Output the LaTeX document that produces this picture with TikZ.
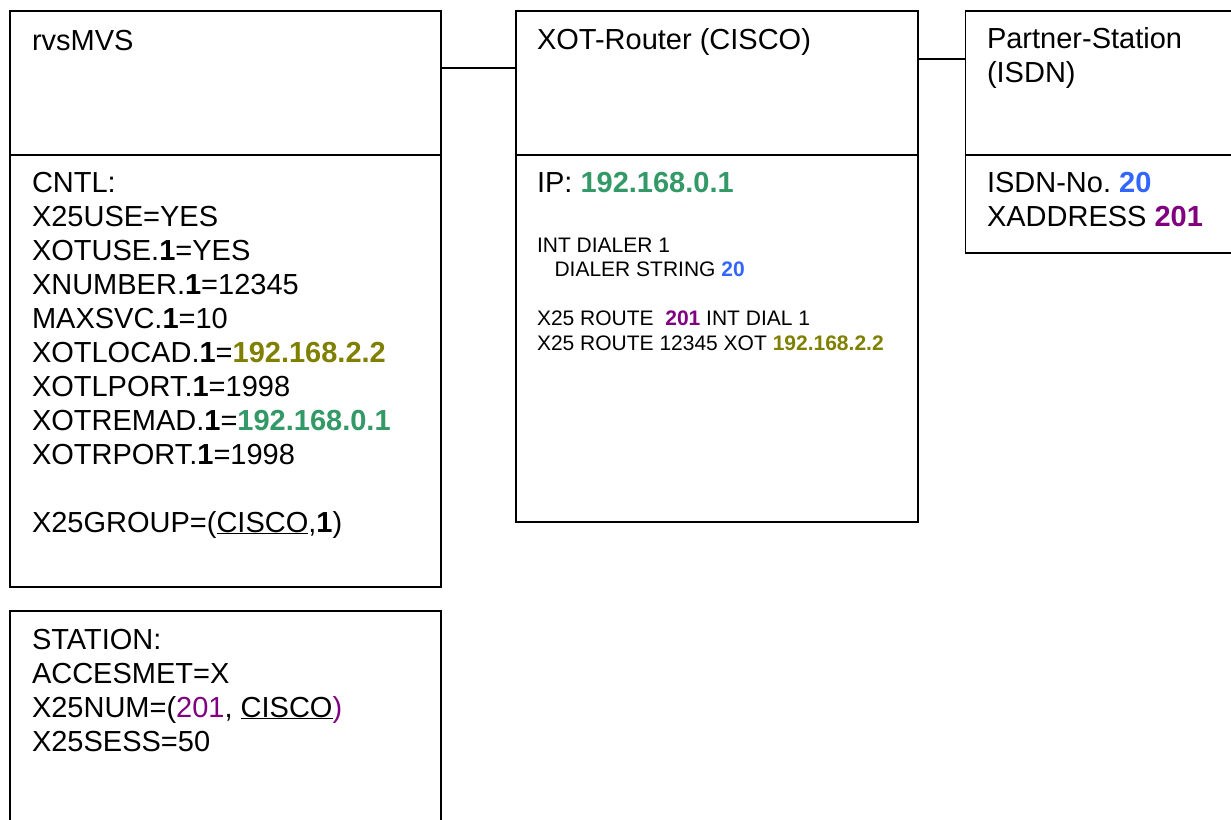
\documentclass[tikz,border=0pt]{standalone}
\usepackage{fontspec}
\setmainfont{Liberation Sans}
\usetikzlibrary{calc}
\definecolor{ipgreen}{RGB}{51,153,102}
\definecolor{ipolive}{RGB}{128,128,0}
\definecolor{isdnblue}{RGB}{51,102,255}
\definecolor{xpurple}{RGB}{128,0,128}
\newcommand\bigtxt{\fontsize{29}{34}\selectfont}
\newcommand\smalltxt{\fontsize{21}{24.5}\selectfont}
\newcommand\tlines[1]{\begin{tabular}[t]{@{}l@{}}#1\end{tabular}}
\newcommand\one{\textbf{1}}
\frenchspacing
\begin{document}
\begin{tikzpicture}[x=1pt,y=-1pt,
  box/.style={draw, line width=1.7pt, rectangle, inner sep=0pt, outer sep=0pt, anchor=north west},
  txt/.style={anchor=base west, inner sep=0pt, outer sep=0pt, align=left, font=\bigtxt},
  smalltext/.style={txt, font=\smalltxt},
  wire/.style={line width=1.6pt}]
\clip (0,0) rectangle (1231,819);
\fill[white] (0,0) rectangle (1231,819);
% boxes
\node[box, minimum width=431pt, minimum height=144pt] (mvsTop) at (10,11) {};
\node[box, minimum width=431pt, minimum height=432pt] (mvsCntl) at (mvsTop.south west) {};
\node[box, minimum width=431pt, minimum height=240pt] (station) at (10,611) {};
\node[box, minimum width=402pt, minimum height=144pt] (xotTop) at (516,11) {};
\node[box, minimum width=402pt, minimum height=367pt] (xotCfg) at (xotTop.south west) {};
\node[box, minimum width=300pt, minimum height=144pt] (isdnTop) at (965.5,11) {};
\node[box, minimum width=300pt, minimum height=98pt] (isdnCfg) at (isdnTop.south west) {};
% connectors
\coordinate (c1) at (0,68);
\coordinate (c2) at (0,59);
\draw[wire] (mvsTop.east |- c1) -- (xotTop.west |- c1);
\draw[wire] (xotTop.east |- c2) -- (isdnTop.west |- c2);
% texts
\node[txt] (tMvs) at ($(mvsTop.north west)+(22,39.5)$) {rvsMVS};
\node[txt] (tCntl) at ($(mvsCntl.north west)+(22,37)$) {\tlines{CNTL:\\
X25USE=YES\\
XOTUSE.\one=YES\\
XNUMBER.\one=12345\\
MAXSVC.\one=10\\
XOTLOCAD.\one=\textcolor{ipolive}{\textbf{192.168.2.2}}\\
XOTLPORT.\one=1998\\
XOTREMAD.\one=\textcolor{ipgreen}{\textbf{192.168.0.1}}\\
XOTRPORT.\one=1998\\
\\
X25GROUP=(\underline{CISCO},\one)}};
\node[txt] (tStation) at ($(station.north west)+(22,38)$) {\tlines{STATION:\\
ACCESMET=X\\
X25NUM=(\textcolor{xpurple}{201}, \underline{CISCO}\textcolor{xpurple}{)}\\
X25SESS=50}};
\node[txt] (tXot) at ($(xotTop.north west)+(21,38)$) {XOT-Router (CISCO)};
\node[txt] (tIp) at ($(xotCfg.north west)+(21,37)$) {IP: \textcolor{ipgreen}{\textbf{192.168.0.1}}};
\node[smalltext] (tRoute) at ($(xotCfg.north west)+(21,97)$) {\tlines{INT DIALER 1\\
\hspace*{17.5pt}DIALER STRING \textcolor{isdnblue}{\textbf{20}}\\
\\
X25 ROUTE \ \textcolor{xpurple}{\textbf{201}} INT DIAL 1\\
X25 ROUTE 12345 XOT \textcolor{ipolive}{\textbf{192.168.2.2}}}};
\node[txt] (tPartner) at ($(isdnTop.north west)+(21.5,37.5)$) {\tlines{Partner-Station\\(ISDN)}};
\node[txt] (tIsdn) at ($(isdnCfg.north west)+(21.5,37)$) {\tlines{ISDN-No. \textcolor{isdnblue}{\textbf{20}}\\
XADDRESS \textcolor{xpurple}{\textbf{201}}}};
\end{tikzpicture}
\end{document}
